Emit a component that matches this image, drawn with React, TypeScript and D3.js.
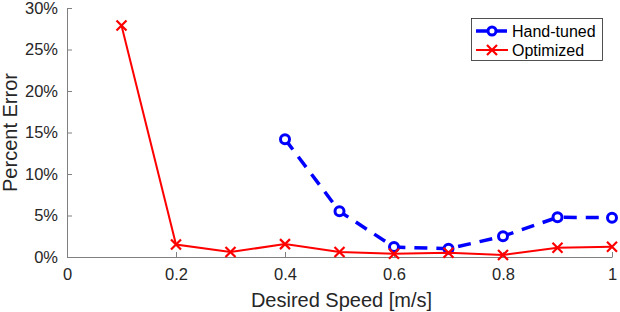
import React, { useRef, useEffect } from "react";
import * as d3 from "d3";

const speeds = [0.1, 0.2, 0.3, 0.4, 0.5, 0.6, 0.7, 0.8, 0.9, 1.0];
const optimized = [27.9, 1.5, 0.6, 1.55, 0.6, 0.38, 0.52, 0.25, 1.12, 1.24];
const handSpeeds = [0.4, 0.5, 0.6, 0.7, 0.8, 0.9, 1.0];
const handTuned = [14.2, 5.5, 1.2, 1.0, 2.5, 4.78, 4.74];
const xTicks = [0, 0.2, 0.4, 0.6, 0.8, 1];
const yTicks = [0, 5, 10, 15, 20, 25, 30];

export default function App() {
  const svgRef = useRef<SVGSVGElement>(null);

  useEffect(() => {
    const width = 620;
    const height = 312;
    const m = { left: 67, right: 8, top: 8, bottom: 55 };
    const font = "'Liberation Sans', Arial, sans-serif";
    const axisColor = "#262626";

    const svg = d3.select(svgRef.current);
    svg.selectAll("*").remove();
    svg.attr("width", width).attr("height", height).style("background", "#fff");

    const x = d3.scaleLinear().domain([0, 1]).range([m.left, width - m.right]);
    const y = d3.scaleLinear().domain([0, 30]).range([height - m.bottom, m.top]);

    // axes (box off, ticks inward)
    const xAxis = svg.append("g")
      .attr("transform", `translate(0,${y(0)})`)
      .call(d3.axisBottom(x).tickValues(xTicks).tickSizeInner(-5).tickSizeOuter(0).tickPadding(11)
        .tickFormat((d) => d3.format("")(+d)));
    const yAxis = svg.append("g")
      .attr("transform", `translate(${x(0)},0)`)
      .call(d3.axisLeft(y).tickValues(yTicks).tickSizeInner(-5).tickSizeOuter(0).tickPadding(9)
        .tickFormat((d) => `${d}%`));

    [xAxis, yAxis].forEach((a) => {
      a.select(".domain").attr("stroke", "#808080").attr("stroke-width", 1);
      a.selectAll(".tick line").attr("stroke", "#808080");
      a.selectAll(".tick text").attr("fill", axisColor).style("font-family", font).style("font-size", "16.5px");
    });

    svg.append("text")
      .attr("x", (x(0) + x(1)) / 2 + 2).attr("y", 307)
      .attr("text-anchor", "middle").attr("fill", axisColor)
      .style("font-family", font).style("font-size", "20px")
      .text("Desired Speed [m/s]");

    svg.append("text")
      .attr("transform", `translate(17,${(y(0) + y(30)) / 2}) rotate(-90)`)
      .attr("text-anchor", "middle").attr("fill", axisColor)
      .style("font-family", font).style("font-size", "20px")
      .text("Percent Error");

    const lineGen = d3.line<[number, number]>().x((d) => x(d[0])).y((d) => y(d[1]));

    // hand-tuned
    const handPts: [number, number][] = handSpeeds.map((s, i) => [s, handTuned[i]]);
    svg.append("path")
      .attr("d", lineGen(handPts))
      .attr("fill", "none").attr("stroke", "#0000ff").attr("stroke-width", 3.5)
      .attr("stroke-dasharray", "13,9");
    svg.selectAll(".hand").data(handPts).join("circle")
      .attr("class", "hand")
      .attr("cx", (d) => x(d[0])).attr("cy", (d) => y(d[1])).attr("r", 4.5)
      .attr("fill", "#fff").attr("stroke", "#0000ff").attr("stroke-width", 3);

    // optimized
    const optPts: [number, number][] = speeds.map((s, i) => [s, optimized[i]]);
    svg.append("path")
      .attr("d", lineGen(optPts))
      .attr("fill", "none").attr("stroke", "#ff0000").attr("stroke-width", 2);
    const cross = (cx: number, cy: number, r: number) =>
      `M${cx - r},${cy - r}L${cx + r},${cy + r}M${cx - r},${cy + r}L${cx + r},${cy - r}`;
    svg.selectAll(".opt").data(optPts).join("path")
      .attr("class", "opt")
      .attr("d", (d) => cross(x(d[0]), y(d[1]), 5))
      .attr("stroke", "#ff0000").attr("stroke-width", 2.2).attr("fill", "none");

    // legend
    const lg = svg.append("g");
    lg.append("rect")
      .attr("x", 471.5).attr("y", 18.5).attr("width", 131).attr("height", 42)
      .attr("fill", "#fff").attr("stroke", "#262626").attr("stroke-width", 0.8);
    lg.append("line").attr("x1", 476).attr("x2", 508).attr("y1", 31).attr("y2", 31)
      .attr("stroke", "#0000ff").attr("stroke-width", 3.5).attr("stroke-dasharray", "13,5");
    lg.append("circle").attr("cx", 492).attr("cy", 31).attr("r", 4)
      .attr("fill", "#fff").attr("stroke", "#0000ff").attr("stroke-width", 3);
    lg.append("line").attr("x1", 476).attr("x2", 508).attr("y1", 50).attr("y2", 50)
      .attr("stroke", "#ff0000").attr("stroke-width", 2);
    lg.append("path").attr("d", cross(492, 50, 5))
      .attr("stroke", "#ff0000").attr("stroke-width", 2.2).attr("fill", "none");
    lg.append("text").attr("x", 512).attr("y", 37).attr("fill", "#000")
      .style("font-family", font).style("font-size", "16px").text("Hand-tuned");
    lg.append("text").attr("x", 512).attr("y", 56).attr("fill", "#000")
      .style("font-family", font).style("font-size", "16px").text("Optimized");
  }, []);

  return (
    <div style={{ position: "absolute", left: 0, top: 0 }}>
      <svg ref={svgRef}></svg>
    </div>
  );
}
